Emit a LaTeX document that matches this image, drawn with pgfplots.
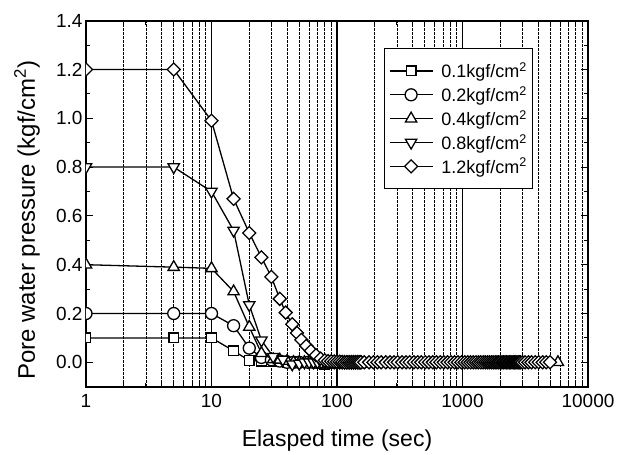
\documentclass[border=0pt]{standalone}
\usepackage{fontspec}
\setmainfont{Liberation Sans}
\usepackage{pgfplots}
\pgfplotsset{compat=1.18}

\begin{document}
\begin{tikzpicture}
\begin{axis}[
    scale only axis,
    width=502pt, height=366pt,
    xmode=log,
    xmin=1, xmax=10000,
    ymin=-0.1, ymax=1.4,
    xtick={1,10,100,1000,10000},
    xticklabels={1,10,100,1000,10000},
    ytick={0,0.2,0.4,0.6,0.8,1.0,1.2,1.4},
    minor ytick={0.1,0.3,0.5,0.7,0.9,1.1,1.3},
    /pgf/number format/assume math mode=true,
    y tick label style={/pgf/number format/fixed, /pgf/number format/fixed zerofill, /pgf/number format/precision=1},
    x tick label style={yshift=-4pt},
    tick label style={font=\fontsize{19}{21}\selectfont},
    xlabel={Elasped time (sec)},
    ylabel={Pore water pressure (kgf/cm\textsuperscript{2})},
    xlabel style={font=\fontsize{23}{26}\selectfont, at={(axis description cs:0.5,-0.146)}, anchor=center},
    ylabel style={font=\fontsize{24}{26}\selectfont, at={(axis description cs:-0.1175,0.455)}, anchor=center},
    tick align=inside,
    major tick length=7pt, minor tick length=4pt,
    tick style={black, line width=1pt},
    axis line style={line width=1.8pt},
    xmajorgrids, xminorgrids,
    major x grid style={black, line width=1.3pt},
    minor x grid style={black, line width=0.7pt, dash pattern=on 2.5pt off 1.5pt},
    clip marker paths=true,
    legend style={at={(0.891,0.925)}, anchor=north east, draw=black, line width=1pt,
        fill=white, font=\fontsize{18}{20}\selectfont, row sep=3.3pt,
        inner xsep=4pt, inner ysep=12pt,
        /tikz/every odd column/.append style={column sep=6pt}},
    legend cell align=left,
    legend image code/.code={\draw[mark repeat=2,mark phase=2] plot coordinates {(0pt,0pt) (21.5pt,0pt) (43pt,0pt)};},
    every axis plot/.append style={black, line width=1.3pt, mark options={fill=white, solid}},
]
% 0.1 kgf/cm2
\addplot[mark=square*, mark size=4.8pt] table {
x y
1 0.10
5 0.10
10 0.10
15 0.047
20 0.007
25 0.005
30 0.003
35 0.002
40 0.0
45 0.0
50 0.0
55 0.0
60 0.0
65 0.0
70 0.0
75 -0.005
80 -0.01
85 0.0
90 0.0
95 0.0
100 0.0
105 0.0
110 0.0
115 0.0
120 0.0
125 0.0
130 0.0
133 0.0
136 0.0
139 0.0
142 0.0
145 0.0
148 0.0
151 0.0
154 0.0
157 0.0
};
\addlegendentry{0.1kgf/cm\textsuperscript{2}}
% 0.2 kgf/cm2
\addplot[mark=*, mark size=6pt] table {
x y
1 0.20
5 0.20
10 0.20
15 0.15
20 0.058
25 0.02
30 0.01
35 0.005
40 0.0
45 0.0
50 0.0
59 0.0
65 0.0
70 0.0
75 0.0
80 0.0
85 0.0
90 0.0
95 0.0
100 0.0
105 0.0
110 0.0
115 0.0
120 0.0
125 0.0
130 0.0
135 0.0
140 0.0
145 0.0
150 0.0
155 0.0
};
\addlegendentry{0.2kgf/cm\textsuperscript{2}}
% 0.4 kgf/cm2
\addplot[mark=triangle*, mark size=6.5pt] table {
x y
1 0.40
5 0.39
10 0.385
15 0.29
20 0.145
25 0.037
31 0.012
35 0.01
40 0.005
45 0.0
50 0.0
55 0.0
60 0.0
65 0.0
70 0.0
75 0.0
80 0.0
85 0.0
90 0.0
95 0.0
100 0.0
105 0.0
110 0.0
115 0.0
120 0.0
125 0.0
130 0.0
135 0.0
140 0.0
145 0.0
150 0.0
155 0.0
5760 0.0
};
\addlegendentry{0.4kgf/cm\textsuperscript{2}}
% 0.8 kgf/cm2
\addplot[mark=triangle*, mark size=6.5pt, mark options={fill=white, solid, rotate=180}] table {
x y
1 0.80
5 0.80
10 0.70
15 0.54
20 0.235
25 0.09
31 0.023
37 0.012
44 -0.008
50 -0.005
55 0.0
60 0.0
65 0.0
70 0.0
75 0.0
80 0.0
85 0.0
90 0.0
95 0.0
100 0.0
105 0.0
110 0.0
115 0.0
120 0.0
125 0.0
130 0.0
135 0.0
140 0.0
145 0.0
150 0.0
155 0.0
};
\addlegendentry{0.8kgf/cm\textsuperscript{2}}
% 1.2 kgf/cm2
\addplot[mark=square*, mark size=4.6pt, mark options={fill=white, solid, rotate=45}] table {
x y
1 1.20
5 1.20
10 0.99
15 0.67
20 0.53
25 0.43
30 0.35
35 0.26
39 0.204
44 0.156
48 0.12
52 0.092
57 0.067
62 0.047
68 0.029
74 0.015
80 0.008
85 0.005
90 0.004
95 0.003
100 0.002
105 0.002
110 0.001
115 0.0
120 0.0
125 0.0
130 0.0
135 0.0
140 0.0
145 0.0
150 0.0
155 0.0
165 0.0
180 0.0
195 0.0
210 0.0
225 0.0
245 0.0
265 0.0
285 0.0
305 0.0
330 0.0
355 0.0
380 0.0
410 0.0
440 0.0
470 0.0
505 0.0
540 0.0
580 0.0
620 0.0
665 0.0
710 0.0
760 0.0
810 0.0
865 0.0
920 0.0
980 0.0
1040 0.0
1100 0.0
1160 0.0
1220 0.0
1280 0.0
1340 0.0
1400 0.0
1460 0.0
1520 0.0
1580 0.0
1640 0.0
1700 0.0
1760 0.0
1820 0.0
1880 0.0
1940 0.0
2000 0.0
2060 0.0
2120 0.0
2180 0.0
2240 0.0
2300 0.0
2360 0.0
2420 0.0
2480 0.0
2540 0.0
2600 0.0
2660 0.0
2720 0.0
2780 0.0
2840 0.0
2900 0.0
3000 0.0
3150 0.0
3350 0.0
3550 0.0
3800 0.0
4050 0.0
4350 0.0
4650 0.0
4980 0.0
};
\addlegendentry{1.2kgf/cm\textsuperscript{2}}
\end{axis}
\pgfresetboundingbox
\path (-86pt,-68.3pt) rectangle (543pt,386.7pt);
\end{tikzpicture}
\end{document}
